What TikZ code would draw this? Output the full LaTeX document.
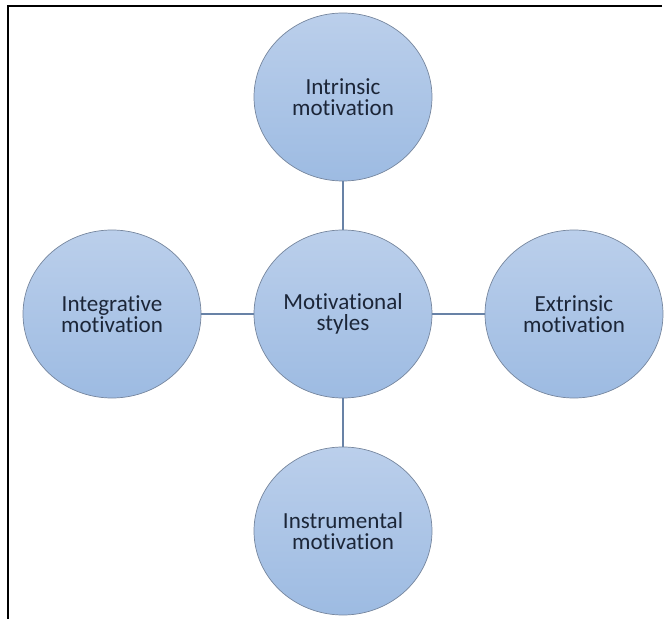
\documentclass[tikz,border=0pt]{standalone}
\usepackage{fontspec}
\setmainfont{Carlito}[Ligatures=NoCommon]
\usepackage{xcolor}
\usepackage{tikz}
\usetikzlibrary{positioning, shapes.geometric}

\definecolor{circtop}{RGB}{187,207,235}
\definecolor{circbottom}{RGB}{157,187,226}
\definecolor{circline}{RGB}{118,134,158}
\definecolor{linkcol}{RGB}{104,130,166}
\definecolor{textcol}{RGB}{28,38,56}

\begin{document}
\begin{tikzpicture}[
        stylecircle/.style={draw=circline, ellipse, minimum width=4.45cm, minimum height=4.2cm, inner sep=0pt, align=center, top color=circtop, bottom color=circbottom, line width=0.5pt, text=textcol, font={\fontsize{16.4}{14.9}\selectfont}},
        link/.style={draw=linkcol, line width=1.4pt},
        frameline/.style={draw=black, line width=1.4pt}
    ]

    \useasboundingbox (0,0) rectangle (16.7,-15.475);

    % ============ FRAME ============
    \draw[frameline] (16.55,-0.15) -- (0.2,-0.15) -- (0.2,-15.475);

    % ============ CIRCLES ============
    \node[stylecircle] (motstyles) at (8.575, -7.85) {Motivational\\styles};
    \node[stylecircle] (intrinsic) at (8.575, -2.425) {Intrinsic\\motivation};
    \node[stylecircle] (extrinsic) at (14.35, -7.85) {Extrinsic\\motivation};
    \node[stylecircle] (integrative) at (2.8, -7.85) {Integrative\\motivation};
    \node[stylecircle] (instrumental) at (8.575, -13.275) {Instrumental\\motivation};

    % ============ LINKS ============
    \draw[link] (motstyles) -- (intrinsic);
    \draw[link] (motstyles) -- (extrinsic);
    \draw[link] (motstyles) -- (integrative);
    \draw[link] (motstyles) -- (instrumental);

\end{tikzpicture}
\end{document}
